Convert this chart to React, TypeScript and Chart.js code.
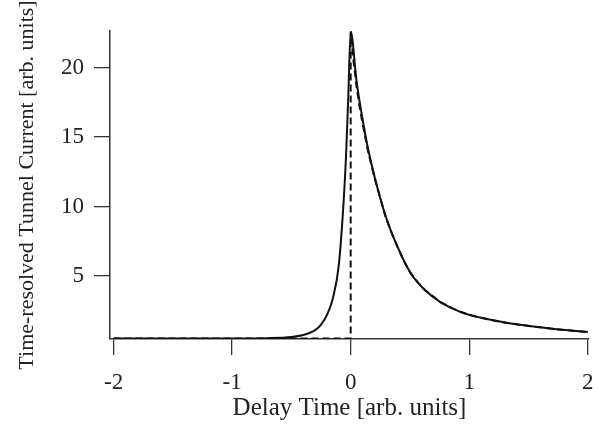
import React, { useEffect, useRef } from "react";
import { Chart, registerables } from "chart.js";

Chart.register(...registerables);

// Solid curve (measured)
const solidTime = [
  -2, -1.5, -1, -0.7, -0.5, -0.4, -0.3, -0.25, -0.2, -0.15, -0.1, -0.06, -0.04, -0.02, 0,
  0.05, 0.1, 0.143, 0.2, 0.295, 0.4, 0.506, 0.63, 0.76, 0.93, 1.12, 1.41, 1.7, 2.0,
];
const solidCurrent = [
  0.5, 0.5, 0.5, 0.52, 0.6, 0.75, 1.1, 1.5, 2.2, 3.4, 5.8, 10.3, 13.5, 18.0, 22.6,
  19.0, 16.3, 14.3, 12.2, 9.3, 7.0, 5.2, 3.95, 3.1, 2.4, 1.95, 1.5, 1.2, 0.96,
];

// Dashed curve (step response)
const dashedTime = [
  -2, -1, -0.5, 0, 0, 0.025, 0.05, 0.075, 0.1, 0.143, 0.2, 0.25, 0.295, 0.35, 0.4, 0.45, 0.506,
  0.57, 0.63, 0.7, 0.76, 0.85, 0.93, 1.02, 1.12, 1.26, 1.41, 1.55, 1.7, 1.85, 2.0,
];
const dashedCurrent = [
  0.5, 0.5, 0.5, 0.5, 22.6, 20.4, 18.6, 17.2, 16.0, 14.1, 12.1, 10.6, 9.25, 8.0, 7.0, 6.05, 5.2,
  4.5, 3.95, 3.5, 3.1, 2.7, 2.4, 2.15, 1.95, 1.7, 1.5, 1.35, 1.2, 1.07, 0.96,
];

const xTicks = [-2, -1, 0, 1, 2];
const yTicks = [5, 10, 15, 20];

const FONT = "'Liberation Serif', 'Times New Roman', serif";

export default function App() {
  const ref = useRef<HTMLCanvasElement>(null);

  useEffect(() => {
    if (!ref.current) return;
    const tickFont = { family: FONT, size: 23 };
    const chart = new Chart(ref.current, {
      type: "scatter",
      data: {
        datasets: [
          {
            data: solidTime.map((t, i) => ({ x: t, y: solidCurrent[i] })),
            showLine: true,
            borderColor: "#111",
            borderWidth: 2,
            pointRadius: 0,
            cubicInterpolationMode: "monotone",
          },
          {
            data: dashedTime.map((t, i) => ({ x: t, y: dashedCurrent[i] })),
            showLine: true,
            borderColor: "#111",
            borderWidth: 2,
            borderDash: [7, 4],
            pointRadius: 0,
            tension: 0,
          },
        ],
      },
      options: {
        responsive: false,
        animation: false,
        devicePixelRatio: 1,
        layout: { padding: { top: 31, right: 10, left: 0, bottom: 0 } },
        plugins: { legend: { display: false }, tooltip: { enabled: false } },
        scales: {
          x: {
            type: "linear",
            min: -2.03,
            max: 2.01,
            afterBuildTicks: (s: any) => {
              s.ticks = xTicks.map((v) => ({ value: v }));
            },
            afterFit: (s: any) => {
              s.height = 96;
              s.paddingLeft = 0;
              s.paddingRight = 0;
            },
            grid: {
              drawOnChartArea: false,
              drawTicks: true,
              tickLength: 16,
              color: "#333",
              lineWidth: 1.3,
            },
            border: { display: true, color: "#333", width: 1.5 },
            ticks: {
              font: tickFont,
              color: "#222",
              padding: 14,
              maxRotation: 0,
              autoSkip: false,
              callback: (v: any) => String(v),
            },
            title: {
              display: true,
              text: "Delay Time [arb. units]",
              font: { family: FONT, size: 25 },
              color: "#222",
              padding: { top: 0, bottom: 12 },
            },
          },
          y: {
            type: "linear",
            min: 0.46,
            max: 22.64,
            afterBuildTicks: (s: any) => {
              s.ticks = yTicks.map((v) => ({ value: v }));
            },
            afterFit: (s: any) => {
              s.width = 110;
            },
            grid: {
              drawOnChartArea: false,
              drawTicks: true,
              tickLength: 16,
              color: "#333",
              lineWidth: 1.3,
            },
            border: { display: true, color: "#333", width: 1.5 },
            ticks: {
              font: tickFont,
              color: "#222",
              padding: 10,
              autoSkip: false,
              callback: (v: any) => String(v),
            },
            title: {
              display: true,
              text: "Time-resolved Tunnel Current [arb. units]",
              font: { family: FONT, size: 22 },
              color: "#222",
              padding: { top: 14, bottom: 0 },
            },
          },
        },
      },
    });
    return () => chart.destroy();
  }, []);

  return (
    <div style={{ position: "absolute", left: 0, top: 0, width: 599, height: 435, background: "#fff" }}>
      <canvas ref={ref} width={599} height={435} />
    </div>
  );
}
